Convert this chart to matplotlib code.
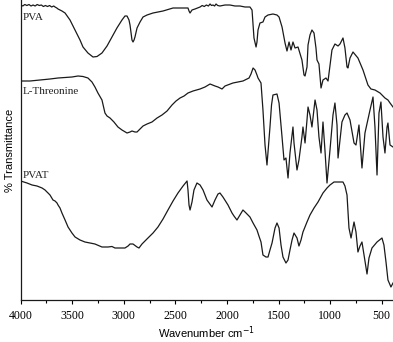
import matplotlib
matplotlib.use("Agg")
import matplotlib.pyplot as plt
from matplotlib.ticker import MultipleLocator

# ---- data: (wavenumber cm^-1, transmittance in arbitrary offset units) ----
pva = [(4000, 295), (3980, 294), (3960, 295.5), (3940, 294.5), (3920, 295.5), (3900, 294),
       (3880, 295), (3860, 294), (3840, 295.5), (3820, 294.5), (3800, 295), (3780, 293.5),
       (3760, 294.5), (3740, 293.5), (3720, 294.5), (3700, 293), (3680, 294), (3667, 293),
       (3650, 292), (3638, 291), (3600, 289), (3570, 287), (3522, 280),
       (3473, 270), (3425, 260), (3396, 253), (3348, 247), (3299, 243), (3260, 243.5),
       (3212, 247), (3163, 254), (3115, 263), (3067, 272), (3018, 280), (2989, 284),
       (2969, 284), (2950, 280), (2940, 275), (2930, 267), (2921, 260), (2911, 258),
       (2901, 260), (2892, 263), (2872, 272), (2843, 278), (2814, 283), (2775, 285),
       (2717, 287), (2620, 289), (2523, 292), (2455, 292), (2378, 292), (2368, 289),
       (2358, 287), (2339, 290), (2310, 291), (2261, 293), (2240, 294.5), (2220, 293.5),
       (2200, 295), (2180, 294), (2164, 296), (2150, 294.5), (2135, 295), (2120, 294),
       (2106, 296), (2090, 294.5), (2068, 294), (2019, 295), (1971, 295), (1922, 294),
       (1874, 294), (1825, 293), (1777, 293), (1757, 290), (1747, 275), (1738, 262),
       (1718, 253), (1709, 258), (1699, 270), (1680, 277), (1651, 278), (1631, 283),
       (1602, 285), (1554, 286), (1515, 285), (1495, 283), (1466, 273), (1437, 257),
       (1418, 249), (1398, 258), (1379, 250), (1360, 258), (1340, 252), (1311, 253),
       (1273, 240), (1253, 225), (1243, 224), (1224, 233), (1214, 255), (1195, 265),
       (1176, 270), (1156, 267), (1137, 252), (1127, 240), (1108, 236), (1088, 212),
       (1069, 220), (1040, 222), (1020, 219), (982, 250), (953, 256), (923, 254),
       (904, 256), (875, 262), (856, 252), (836, 233), (827, 232), (807, 242),
       (778, 248), (730, 242), (681, 230), (633, 215), (604, 211), (565, 210),
       (516, 207), (468, 202), (439, 200), (419, 197), (390, 193)]

threonine = [(4000, 219), (3910, 219), (3813, 220), (3764, 220.5), (3716, 221), (3638, 222),
             (3570, 222.5), (3503, 223), (3444, 224), (3396, 223.5), (3348, 222), (3309, 218),
             (3280, 213), (3251, 207), (3212, 200), (3183, 187), (3163, 184), (3134, 182),
             (3096, 178), (3057, 173), (3018, 170), (2969, 167), (2940, 168), (2921, 169),
             (2892, 168), (2872, 168), (2843, 171), (2814, 174), (2775, 176), (2727, 178),
             (2678, 182), (2630, 185), (2581, 189), (2533, 195), (2494, 199), (2455, 202),
             (2416, 204), (2378, 207), (2329, 209), (2261, 211), (2213, 213), (2164, 216),
             (2116, 214), (2087, 213), (2048, 211), (2019, 214), (1942, 217), (1845, 219),
             (1786, 222), (1767, 226), (1747, 232), (1728, 230), (1709, 225), (1699, 222),
             (1670, 217), (1651, 190), (1631, 155), (1612, 135), (1583, 173), (1568, 195),
             (1554, 205), (1515, 206), (1495, 197), (1466, 163), (1447, 140), (1428, 142),
             (1408, 122), (1389, 147), (1360, 173), (1350, 157), (1321, 130), (1302, 140),
             (1273, 163), (1263, 173), (1243, 157), (1224, 180), (1214, 193), (1195, 185),
             (1176, 173), (1146, 200), (1127, 190), (1108, 163), (1088, 147), (1069, 178),
             (1050, 150), (1030, 117), (1001, 150), (972, 185), (953, 197), (933, 175),
             (923, 142), (904, 160), (885, 178), (856, 185), (836, 187), (807, 180),
             (768, 157), (749, 155), (720, 175), (691, 132), (662, 167), (613, 190),
             (584, 203), (565, 173), (545, 125), (526, 187), (507, 198), (487, 163),
             (468, 147), (448, 173), (439, 177), (419, 155), (390, 153)]

pvat = [(4000, 119), (3939, 117), (3890, 115), (3842, 114), (3793, 112), (3764, 110),
        (3745, 108), (3735, 107), (3716, 105), (3687, 100), (3667, 99), (3648, 97),
        (3638, 95), (3619, 92), (3600, 87), (3570, 80), (3541, 73), (3503, 67),
        (3473, 63), (3425, 60), (3377, 58), (3328, 57), (3280, 56), (3212, 53),
        (3154, 53), (3115, 53.5), (3086, 52), (3038, 52), (2989, 52), (2959, 54),
        (2940, 56), (2911, 56), (2872, 53), (2853, 52), (2824, 56), (2795, 59),
        (2766, 62), (2717, 67), (2669, 73), (2620, 81), (2572, 90), (2523, 99),
        (2475, 107), (2426, 114), (2387, 119), (2378, 110), (2368, 95), (2358, 90),
        (2339, 98), (2320, 110), (2291, 117), (2261, 115), (2232, 110), (2194, 100),
        (2145, 93), (2116, 100), (2087, 106), (2068, 107), (2039, 103), (1990, 95),
        (1951, 87), (1932, 84), (1903, 80), (1874, 85), (1845, 90), (1815, 87),
        (1777, 83), (1747, 77), (1709, 70), (1690, 64), (1670, 58), (1651, 45),
        (1622, 43), (1602, 43), (1583, 50), (1563, 57), (1534, 72), (1515, 77),
        (1495, 72), (1476, 55), (1457, 43), (1428, 37), (1408, 40), (1389, 50),
        (1369, 60), (1350, 67), (1321, 62), (1302, 54), (1282, 60), (1263, 68),
        (1224, 78), (1195, 85), (1156, 92), (1117, 98), (1069, 107), (1030, 112),
        (1001, 115), (962, 118), (933, 118), (875, 118), (856, 114), (836, 105),
        (817, 72), (797, 62), (768, 78), (749, 68), (730, 48), (710, 54),
        (691, 58), (671, 45), (642, 26), (623, 42), (594, 52), (545, 58),
        (497, 62), (478, 55), (458, 38), (439, 20), (410, 13), (390, 17)]

labels = ["PVA", "L-Threonine", "PVAT"]
label_y = [283, 208, 124]
xticks = [4000, 3500, 3000, 2500, 2000, 1500, 1000, 500]

# ---- figure ----
W, H = 393, 342
fig = plt.figure(figsize=(W / 100, H / 100), dpi=100)
ax = fig.add_axes([20.7 / W, 42 / H, (392.7 - 20.7) / W, 300 / H])

serif = ["Liberation Serif", "DejaVu Serif"]
sans = ["Liberation Sans", "DejaVu Sans"]

for series in (pva, threonine, pvat):
    wn = [p[0] for p in series]
    t = [p[1] for p in series]
    ax.plot(wn, t, color="#1a1a1a", lw=0.9, solid_joinstyle="round")

for lab, y in zip(labels, label_y):
    ax.text(3980, y, lab, fontsize=8, family=serif, color="#222222",
            ha="left", va="center")

ax.set_xlim(4000, 393)
ax.set_ylim(0, 300)
ax.set_xticks(xticks)
ax.set_xticklabels([str(v) for v in xticks], family=serif, fontsize=8.5)
ax.xaxis.set_minor_locator(MultipleLocator(250))
ax.tick_params(axis="x", which="major", direction="out", length=3, width=0.8, pad=4)
ax.tick_params(axis="x", which="minor", direction="out", length=2.5, width=0.8)
ax.set_yticks([])
for s in ["top", "right"]:
    ax.spines[s].set_visible(False)
for s in ["left", "bottom"]:
    ax.spines[s].set_linewidth(0.9)
    ax.spines[s].set_color("#1a1a1a")

ax.set_xlabel("Wavenumber cm$^{-1}$", family=sans, fontsize=8, labelpad=2)
ax.set_ylabel("% Transmittance", family=sans, fontsize=8, labelpad=4)

fig.savefig("out.png", dpi=100)
